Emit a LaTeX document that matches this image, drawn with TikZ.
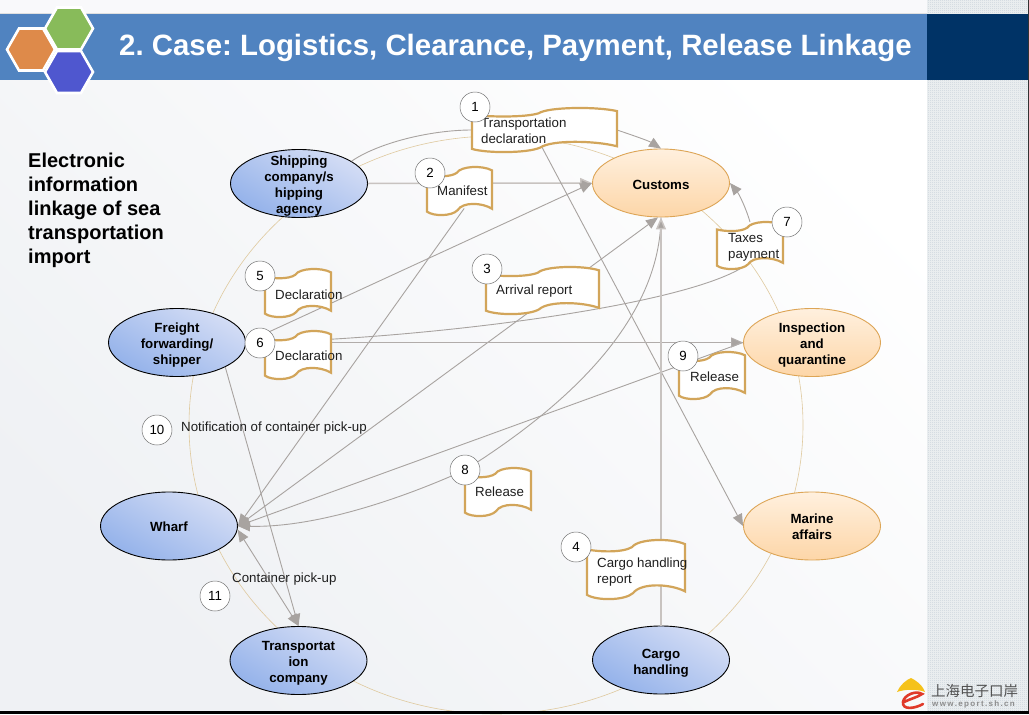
\documentclass[tikz,border=0pt]{standalone}
\usepackage{fontspec}
\setmainfont{Liberation Sans}
\newfontfamily\cjkfont{Noto Sans CJK SC}
\usetikzlibrary{shapes.geometric,arrows.meta,calc,patterns}
\frenchspacing
\definecolor{bandblue}{HTML}{5083C0}
\definecolor{banddark}{HTML}{003366}
\definecolor{stripbase}{HTML}{EEF1F3}
\definecolor{stripdot}{HTML}{C9D2D9}
\definecolor{conn}{HTML}{A8A3A0}
\definecolor{connlight}{HTML}{C8C3C0}
\definecolor{docedge}{HTML}{D2A55A}
\definecolor{ringc}{HTML}{DFC99E}
\definecolor{orangeedge}{HTML}{DDA556}
\definecolor{bluelow}{HTML}{94B2EA}
\definecolor{bluehigh}{HTML}{D4DDF5}
\definecolor{orangehigh}{HTML}{FFF0DE}
\definecolor{orangelow}{HTML}{FDD6A8}
\definecolor{pagegrey}{HTML}{EFF1F4}
\definecolor{HexGreen}{HTML}{88BB5A}
\definecolor{HexOrange}{HTML}{DE8A4A}
\definecolor{HexBlue}{HTML}{4F57CF}
\definecolor{LogoYellow}{HTML}{F5C21A}
\definecolor{LogoRed}{HTML}{E03A2A}
\pgfdeclarepatternformonly{finecheck}{\pgfqpoint{0pt}{0pt}}{\pgfqpoint{2pt}{2pt}}{\pgfqpoint{2pt}{2pt}}{%
  \pgfpathrectangle{\pgfqpoint{0pt}{0pt}}{\pgfqpoint{1pt}{1pt}}%
  \pgfpathrectangle{\pgfqpoint{1pt}{1pt}}{\pgfqpoint{1pt}{1pt}}%
  \pgfusepath{fill}}
\tikzset{
  lbl/.style={font=\fontsize{13.3}{16}\selectfont,text=black!88,inner sep=0pt,align=left,anchor=west},
  enttext/.style={inner sep=0pt,align=center,font=\fontsize{13.3}{16}\selectfont\bfseries},
  bluenode/.style={ellipse,draw=black,line width=0.9pt,inner sep=0pt,minimum width=137,minimum height=68,
    bottom color=bluelow,top color=bluehigh,shading angle=-30},
  orangenode/.style={ellipse,draw=orangeedge,line width=0.9pt,inner sep=0pt,minimum width=137,minimum height=68,
    top color=orangehigh,bottom color=orangelow},
  num/.style={circle,draw=black!55,line width=0.5pt,fill=white,minimum size=30,inner sep=0pt,font=\fontsize{13.3}{16}\selectfont},
  frame/.style={rectangle,inner sep=0pt,outer sep=0pt},
  flow/.style={draw=conn,line width=0.9pt,-{Triangle[length=12pt,width=10pt]}},
  flowheavy/.style={draw=connlight,line width=1.5pt,-{Triangle[length=12pt,width=10pt,fill=conn]}},
  flowboth/.style={draw=conn,line width=0.9pt,{Triangle[length=12pt,width=10pt]}-{Triangle[length=12pt,width=10pt]}},
  hexa/.style={draw=white,line width=2.6pt,line join=miter}
}
% #1 name, #2 left, #3 top, #4 right, #5 bottom: invisible frame
\newcommand{\docframe}[5]{%
  \node[frame,minimum width=#4-#2,minimum height=#5-#3] (#1) at ({(#2+#4)/2},{(#3+#5)/2}) {};}
\newcommand{\wave}[4]{%
  \pgfmathsetmacro{\wx}{#3-#1}\pgfmathsetmacro{\wy}{#4-#2}%
  \begin{scope}[shift={(#1,#2)},x=\wx pt,y=-\wy pt]
    \draw[draw=docedge,fill=white,line width=2.2pt]
      (0,.16) .. controls (.12,.2) and (.36,.22) .. (.46,.12)
      .. controls (.52,-.02) and (.85,-.04) .. (1,.07) -- (1,.87)
      .. controls (.85,.74) and (.55,.72) .. (.47,.9)
      .. controls (.38,1.03) and (.1,1.03) .. (0,.93) -- cycle;
  \end{scope}}
\newcommand{\hexat}[3]{%
  \fill[#3] (#1-24,#2) -- (#1-12,#2-21) -- (#1+12,#2-21) -- (#1+24,#2) -- (#1+12,#2+21) -- (#1-12,#2+21) -- cycle;
  \draw[hexa] (#1-24,#2) -- (#1-12,#2-21) -- (#1+12,#2-21) -- (#1+24,#2) -- (#1+12,#2+21) -- (#1-12,#2+21) -- cycle;}
% #1 text offset, #2 style, #3 name, #4 x, #5 y, #6 text
\newcommand{\entity}[6]{%
  \node[#2] (#3) at (#4,#5) {};
  \node[enttext] (#3text) at ($(#3.center)+(0,#1)$) {#6};}
\begin{document}
\begin{tikzpicture}[x=1pt,y=-1pt]
\useasboundingbox (0,0) rectangle (1029,715);
% background
\fill[white] (0,0) rectangle (1029,715);
\shade[left color=pagegrey,right color=white,shading angle=135] (0,0) rectangle (927,711);
\fill[white!60!pagegrey] (0,0) rectangle (927,13);
\fill[stripbase] (927,0) rectangle (1029,711);
\fill[pattern=finecheck,pattern color=stripdot] (927,0) rectangle (1029,711);
\fill[bandblue] (0,14) rectangle (927,80);
\draw[line width=0.8pt,draw=black!12] (0,13.5) -- (927,13.5);
\fill[banddark] (927,14) rectangle (1029,80);
\fill[black!80] (1028,0) rectangle (1029,711);
% ring
\draw[ringc,line width=0.6pt] (496,425) ellipse [x radius=307,y radius=289];
% entities
\entity{3}{bluenode}{ship}{299}{183.5}{Shipping\\company/s\\hipping\\agency}
\entity{3}{bluenode}{freight}{177}{342.5}{Freight\\forwarding/\\shipper}
\entity{1}{bluenode}{wharf}{169}{526}{Wharf}
\entity{3}{bluenode}{trans}{298.5}{660.5}{Transportat\\ion\\company}
\entity{3}{bluenode}{cargo}{661}{660}{Cargo\\handling}
\entity{2}{orangenode}{cust}{661}{183}{Customs}
\entity{3}{orangenode}{insp}{812}{342.5}{Inspection\\and\\quarantine}
\entity{1}{orangenode}{marine}{812}{526}{Marine\\affairs}
% document frames
\docframe{d1}{472}{108}{617}{152}
\docframe{d2}{427}{167}{492}{215}
\docframe{d3}{486}{267}{599}{314}
\docframe{d4}{587}{540}{685}{599}
\docframe{d5}{265}{269}{331}{317}
\docframe{d6}{265}{331}{331}{379}
\docframe{d7}{717}{222}{783}{269}
\docframe{d8}{465}{468}{531}{516}
\docframe{d9}{679}{352}{745}{399}
\coordinate (k8) at (465,470);
% connectors
\draw[flow] (ship.23) .. controls ($(d1.west)+(-94,13)$) and ($(d1.west)+(-42,0)$) .. (d1.west)
  -- (d1.east) .. controls ($(d1.east)+(15,5)$) and ($(d1.east)+(32,11)$) .. (cust.north);
\draw[flowheavy] (ship.east) -- (cust.west);
\draw[flow] ($(d1.south)!-8pt!(marine.west)$) -- (marine.west);
\draw[flow] ($(d2.south)!-8pt!(wharf.east)$) -- (wharf.east);
\draw[flow] (freight.east) -- (cust.west);
\draw[flow] (wharf.east) -- (cust.-95);
\draw[flow] (insp.west) -- (wharf.east);
\draw[flow] (cust.south) .. controls (660,300) and (600,385) .. (k8) .. controls (410,495) and (320,528) .. (wharf.east);
\draw[flowheavy,draw=conn!90,line width=1pt] (freight.east) -- (insp.west);
\draw[draw=conn,line width=0.9pt] (freight.east) .. controls (420,340) and (700,305) .. ($(d7.south)+(0,-7)$);
\draw[flow] (d7.north) .. controls (746,208) and (739,194) .. (cust.east);
\draw[flowheavy] (cargo.north) -- (cust.south);
\draw[flow] (freight.-27) -- (trans.north);
\draw[flowboth] (wharf.-3) -- (trans.north);
% documents
\wave{472}{108}{617}{152}
\wave{427}{167}{492}{215}
\wave{486}{267}{599}{314}
\wave{587}{540}{685}{599}
\wave{265}{269}{331}{317}
\wave{265}{331}{331}{379}
\wave{717}{222}{783}{269}
\wave{465}{468}{531}{516}
\wave{679}{352}{745}{399}
% labels
\node[lbl] (t1) at (481,131) {Transportation\\declaration};
\node[lbl] (t2) at (437,191) {Manifest};
\node[lbl] (t3) at (496,291) {Arrival report};
\node[lbl] (t4) at (597,572.5) {Cargo handling\\report};
\node[lbl] (t5) at (275,295) {Declaration};
\node[lbl] (t6) at (275,355.5) {Declaration};
\node[lbl] (t7) at (728,247.5) {Taxes\\payment};
\node[lbl] (t8) at (475,492) {Release};
\node[lbl] (t9) at (690,377) {Release};
\node[lbl] (t10) at (181,428) {Notification of container pick-up};
\node[lbl] (t11) at (232,579) {Container pick-up};
% numbers
\node[num] (n1) at (475,107) {1};
\node[num] (n2) at (430,173) {2};
\node[num] (n3) at (487,269) {3};
\node[num] (n4) at (576,547) {4};
\node[num] (n5) at (260,276) {5};
\node[num] (n6) at (260,343) {6};
\node[num] (n7) at (787,222) {7};
\node[num] (n8) at (465,470) {8};
\node[num] (n9) at (683,356) {9};
\node[num] (n10) at (157,430) {10};
\node[num] (n11) at (215,596) {11};
% side text
\node[anchor=west,inner sep=0pt,align=left,font=\fontsize{20}{24}\selectfont\bfseries] (side) at (28,210)
  {Electronic\\information\\linkage of sea\\transportation\\import};
% header
\hexat{69}{28.5}{HexGreen}
\hexat{31}{49.5}{HexOrange}
\hexat{69}{72}{HexBlue}
\node[anchor=west,inner sep=0pt,text=white,font=\fontsize{29.4}{34}\selectfont\bfseries] (title) at (119,48)
  {2. Case: Logistics, Clearance, Payment, Release Linkage};
% logo
\fill[LogoYellow] (911,678) .. controls (915,680) and (922,684) .. (925,692) .. controls (918,689) and (905,689) .. (897,692) .. controls (900,685) and (906,680) .. (911,678) -- cycle;
\draw[LogoRed,line width=2.6pt,line cap=round] (904,702) .. controls (910,699) and (918,697) .. (922,694) .. controls (916,690) and (904,695) .. (903,702) .. controls (902,710) and (914,709) .. (923,704);
\node[anchor=west,inner sep=0pt,text=black!68,font=\cjkfont\fontsize{14.5}{16}\selectfont] (logo1) at (931,691) {上海电子口岸};
\node[anchor=west,inner sep=0pt,text=black!45,font=\fontsize{8}{9}\bfseries\selectfont] (logo2) at (932,704) {w\,w\,w\,.\,e\,p\,o\,r\,t\,.\,s\,h\,.\,c\,n};
% bottom rule
\fill[black] (0,711) rectangle (1029,714);
\end{tikzpicture}
\end{document}
